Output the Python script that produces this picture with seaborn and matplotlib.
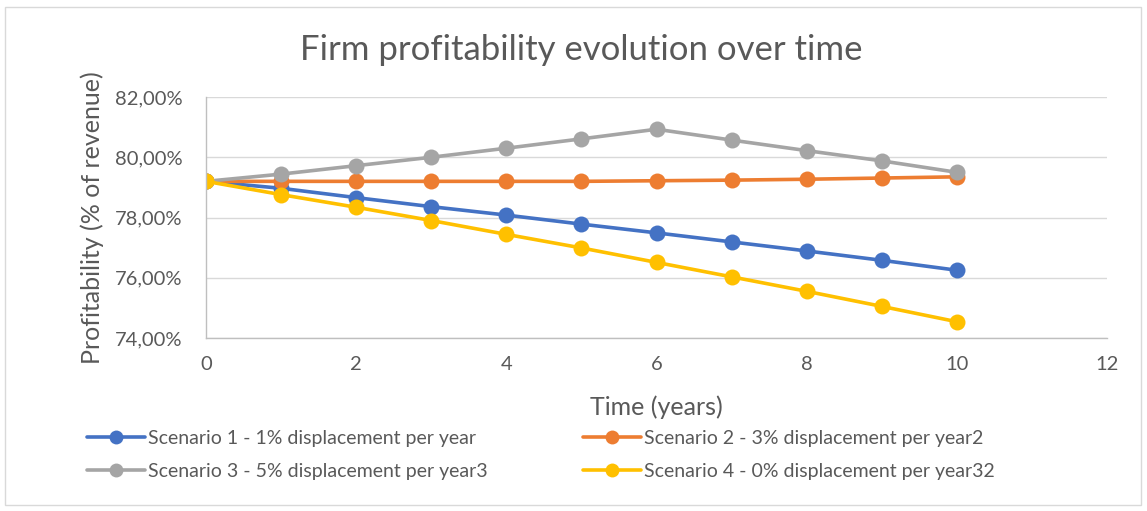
import matplotlib
matplotlib.use("Agg")
import matplotlib.pyplot as plt
import matplotlib.ticker as mticker
from matplotlib.lines import Line2D
from matplotlib.patches import Rectangle
import seaborn as sns
import pandas as pd

years = [0, 1, 2, 3, 4, 5, 6, 7, 8, 9, 10]
scenario_names = [
    "Scenario 1 - 1% displacement per year",
    "Scenario 2 - 3% displacement per year2",
    "Scenario 3 - 5% displacement per year3",
    "Scenario 4 - 0% displacement per year32",
]
s1 = [79.20, 78.97, 78.66, 78.36, 78.08, 77.78, 77.49, 77.19, 76.89, 76.58, 76.25]
s2 = [79.20, 79.20, 79.20, 79.20, 79.20, 79.20, 79.22, 79.24, 79.27, 79.31, 79.35]
s3 = [79.20, 79.44, 79.72, 80.00, 80.30, 80.61, 80.93, 80.57, 80.22, 79.88, 79.50]
s4 = [79.20, 78.76, 78.34, 77.90, 77.44, 76.99, 76.51, 76.03, 75.55, 75.05, 74.54]
colors = ["#4472C4", "#ED7D31", "#A5A5A5", "#FFC000"]

rows = []
for name, vals in zip(scenario_names, [s1, s2, s3, s4]):
    for x, v in zip(years, vals):
        rows.append({"Time": x, "Profit": v, "Scenario": name})
df = pd.DataFrame(rows)

sns.set_theme(style="white")
plt.rcParams["font.family"] = ["Lato", "DejaVu Sans"]

fig = plt.figure(figsize=(11.47, 5.11), dpi=100)
ax = fig.add_axes([206 / 1147, 1 - 338 / 511, (1107 - 206) / 1147, (338 - 97) / 511])

sns.lineplot(data=df, x="Time", y="Profit", hue="Scenario", palette=colors,
             marker="o", markersize=11.5, markeredgewidth=0, linewidth=2.6,
             ax=ax, legend=False)

ax.set_xlim(0, 12)
ax.set_ylim(74, 82)
ax.set_xticks([0, 2, 4, 6, 8, 10, 12])
ax.set_yticks([74, 76, 78, 80, 82])
ax.yaxis.set_major_formatter(mticker.FuncFormatter(lambda v, p: f"{v:.2f}%".replace(".", ",")))
ax.tick_params(axis="y", length=0, labelsize=14.5, colors="#595959", pad=17)
ax.tick_params(axis="x", length=0, labelsize=14.5, colors="#595959", pad=13)
ax.grid(axis="y", color="#D9D9D9", linewidth=1)
ax.set_axisbelow(True)
for s in ["top", "right"]:
    ax.spines[s].set_visible(False)
for s in ["left", "bottom"]:
    ax.spines[s].set_color("#BFBFBF")
    ax.spines[s].set_linewidth(1)

ax.set_xlabel("Time (years)", fontsize=18, color="#595959", labelpad=16)
ax.set_ylabel("Profitability (% of revenue)", fontsize=18, color="#595959", labelpad=8)
fig.text(581 / 1147, 1 - 50 / 511, "Firm profitability evolution over time",
         ha="center", va="center", fontsize=25, color="#595959")

handles = [Line2D([0], [0], color=c, lw=2.6, marker="o", markersize=10, markeredgewidth=0)
           for c in colors]
order = [0, 2, 1, 3]
leg = fig.legend([handles[i] for i in order], [scenario_names[i] for i in order],
                 loc="upper left", ncol=2,
                 bbox_to_anchor=(69 / 1147, 1 - 412 / 511), frameon=False,
                 fontsize=14, handlelength=3.0, handletextpad=0.15,
                 columnspacing=4.9, labelspacing=0.85, labelcolor="#595959")

fig.patches.append(Rectangle((5 / 1147, 6 / 511), 1136 / 1147, 498 / 511,
                             transform=fig.transFigure, fill=False,
                             edgecolor="#D9D9D9", linewidth=1))

fig.savefig("out.png", dpi=100, facecolor="white")
